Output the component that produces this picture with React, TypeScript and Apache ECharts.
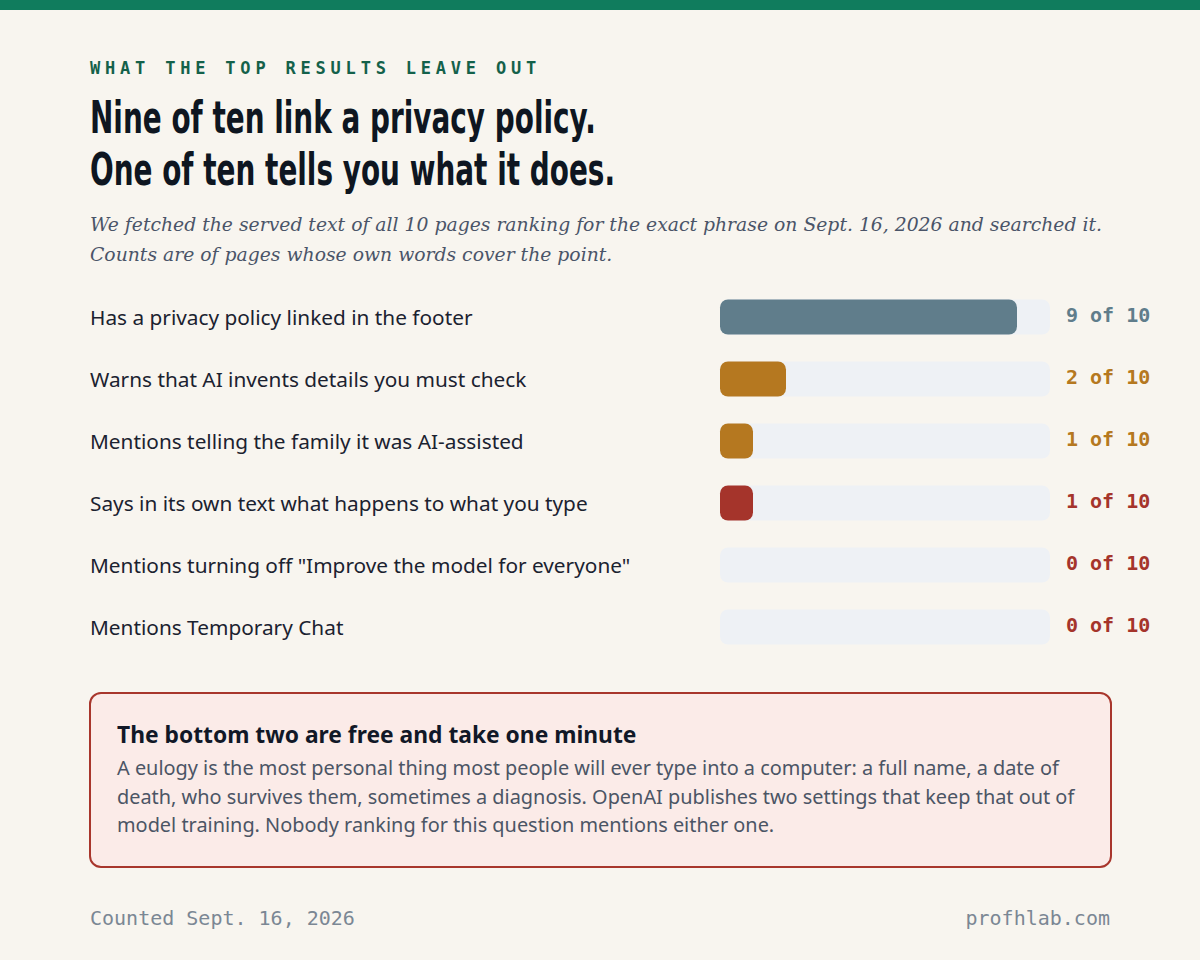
import { useEffect, useRef } from "react";
import * as echarts from "echarts";

const criteria = [
  "Has a privacy policy linked in the footer",
  "Warns that AI invents details you must check",
  "Mentions telling the family it was AI-assisted",
  "Says in its own text what happens to what you type",
  'Mentions turning off "Improve the model for everyone"',
  "Mentions Temporary Chat"
];
const pageCounts = [9, 2, 1, 1, 0, 0];
const totalPages = 10;
const tones = ["slate", "amber", "amber", "red", "red", "red"];

const toneColors: Record<string, string> = {
  slate: "#607d8b",
  amber: "#b57820",
  red: "#a5342b"
};

const SANS = "'Noto Sans', 'Open Sans', sans-serif";
const MONO = "'DejaVu Sans Mono', 'Liberation Mono', monospace";

function CoverageChart() {
  const ref = useRef<HTMLDivElement | null>(null);

  useEffect(() => {
    if (!ref.current) {
      return;
    }

    const chart = echarts.init(ref.current, undefined, { renderer: "svg" });

    const rich: Record<string, object> = {};
    Object.keys(toneColors).forEach((tone) => {
      rich[tone] = {
        color: toneColors[tone],
        fontFamily: MONO,
        fontSize: 20,
        fontWeight: "bold",
        padding: [0, 0, 5, 0]
      };
    });

    chart.setOption({
      animation: false,
      backgroundColor: "transparent",
      grid: {
        bottom: 0,
        left: 720,
        right: 150,
        top: 0
      },
      xAxis: {
        max: totalPages,
        min: 0,
        show: false,
        type: "value"
      },
      yAxis: [
        {
          axisLabel: {
            align: "left",
            color: "#1b2230",
            fontFamily: SANS,
            fontSize: 20.8,
            margin: 630
          },
          axisLine: { show: false },
          axisTick: { show: false },
          data: criteria,
          inverse: true,
          type: "category"
        },
        {
          axisLabel: {
            align: "left",
            formatter: (_value: string, index: number) =>
              `{${tones[index]}|${pageCounts[index]} of ${totalPages}}`,
            margin: 16,
            rich
          },
          axisLine: { show: false },
          axisTick: { show: false },
          data: criteria,
          inverse: true,
          position: "right",
          type: "category"
        }
      ],
      series: [
        {
          backgroundStyle: {
            borderRadius: 8,
            color: "#eef1f5"
          },
          barWidth: 35,
          data: pageCounts.map((count, i) => ({
            itemStyle: { color: toneColors[tones[i]] },
            value: count
          })),
          itemStyle: { borderRadius: 8 },
          showBackground: true,
          type: "bar",
          yAxisIndex: 0
        }
      ]
    });

    return () => {
      chart.dispose();
    };
  }, []);

  return (
    <div
      ref={ref}
      style={{ height: 372, left: 0, position: "absolute", top: 286, width: 1200 }}
    />
  );
}

export default function App() {
  useEffect(() => {
    document.body.style.margin = "0";
    document.body.style.background = "#f8f5ef";
  }, []);

  return (
    <div
      style={{
        background: "#f8f5ef",
        height: 960,
        overflow: "hidden",
        position: "relative",
        width: 1200
      }}
    >
      <div style={{ background: "#107c5d", height: 10, left: 0, position: "absolute", top: 0, width: 1200 }} />
      <div
        style={{
          color: "#14614a",
          fontFamily: MONO,
          fontSize: 17,
          fontWeight: 700,
          left: 90,
          letterSpacing: 4.8,
          lineHeight: "20px",
          position: "absolute",
          top: 58,
          whiteSpace: "nowrap"
        }}
      >
        WHAT THE TOP RESULTS LEAVE OUT
      </div>
      <div
        style={{
          color: "#0e1621",
          fontFamily: "'DejaVu Sans', sans-serif",
          fontSize: 44,
          fontWeight: 700,
          left: 90,
          lineHeight: "52px",
          position: "absolute",
          top: 92,
          transform: "scaleX(0.634)",
          transformOrigin: "left top",
          whiteSpace: "nowrap"
        }}
      >
        Nine of ten link a privacy policy.
        <br />
        One of ten tells you what it does.
      </div>
      <div
        style={{
          color: "#4a5468",
          fontFamily: "'DejaVu Serif', 'Liberation Serif', serif",
          fontSize: 18.8,
          fontStyle: "italic",
          left: 90,
          lineHeight: "30px",
          position: "absolute",
          top: 210,
          whiteSpace: "nowrap"
        }}
      >
        We fetched the served text of all 10 pages ranking for the exact phrase on Sept. 16, 2026 and searched it.
        <br />
        Counts are of pages whose own words cover the point.
      </div>

      <CoverageChart />

      <div
        style={{
          background: "#fbebe8",
          border: "2px solid #a8362c",
          borderRadius: 12,
          boxSizing: "border-box",
          height: 176,
          left: 89,
          padding: "26px 26px",
          position: "absolute",
          top: 692,
          width: 1023
        }}
      >
        <div style={{ color: "#111827", fontFamily: SANS, fontSize: 22.8, fontWeight: 700, lineHeight: "30px" }}>
          The bottom two are free and take one minute
        </div>
        <div
          style={{
            color: "#4b5565",
            fontFamily: SANS,
            fontSize: 19.9,
            lineHeight: "28.5px",
            marginTop: 4,
            whiteSpace: "nowrap"
          }}
        >
          A eulogy is the most personal thing most people will ever type into a computer: a full name, a date of
          <br />
          death, who survives them, sometimes a diagnosis. OpenAI publishes two settings that keep that out of
          <br />
          model training. Nobody ranking for this question mentions either one.
        </div>
      </div>

      <div
        style={{
          color: "#7b8794",
          fontFamily: MONO,
          fontSize: 20,
          left: 90,
          lineHeight: "24px",
          position: "absolute",
          top: 906
        }}
      >
        Counted Sept. 16, 2026
      </div>
      <div
        style={{
          color: "#7b8794",
          fontFamily: MONO,
          fontSize: 20,
          lineHeight: "24px",
          position: "absolute",
          right: 90,
          top: 906
        }}
      >
        profhlab.com
      </div>
    </div>
  );
}
